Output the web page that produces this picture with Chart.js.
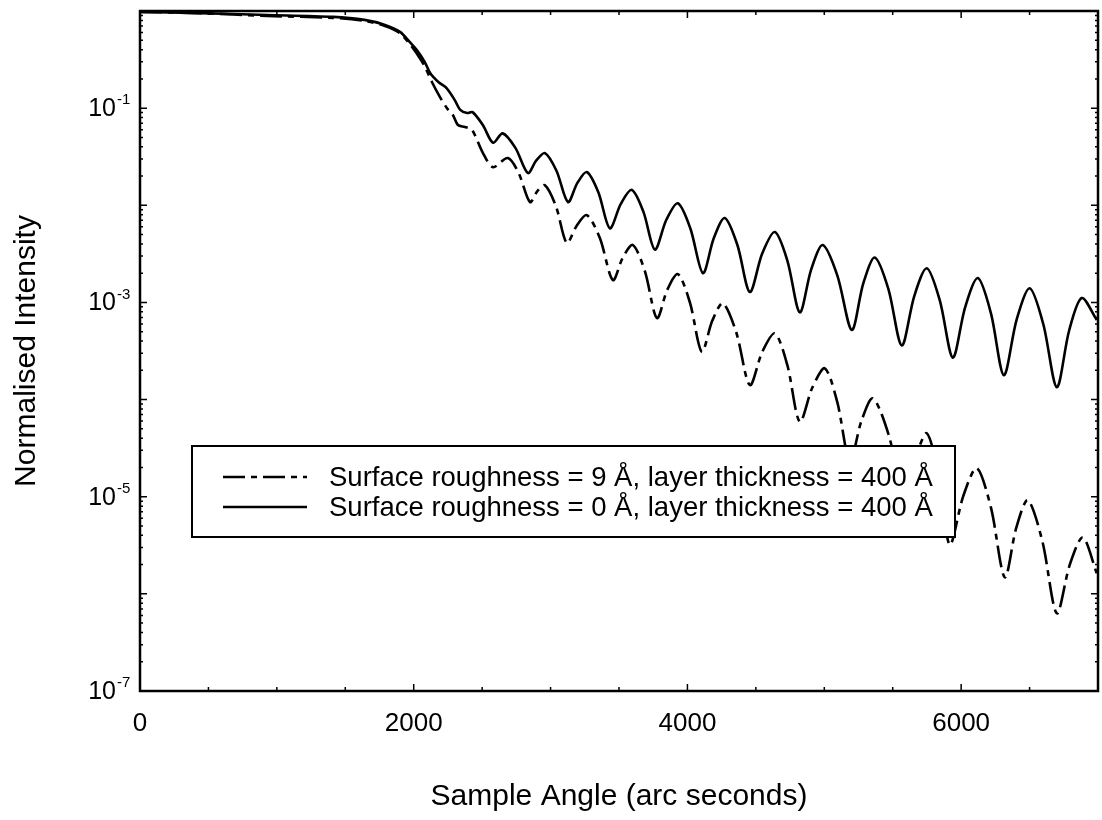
<!DOCTYPE html>
<html>
<head>
<meta charset="utf-8">
<title>X-ray reflectivity</title>
<script src="https://cdn.jsdelivr.net/npm/chart.js@4.4.1/dist/chart.umd.min.js"></script>
<style>
  html, body { margin: 0; padding: 0; background: #fff; }
  #reflChart { display: block; }
</style>
</head>
<body>
<canvas id="reflChart" width="1102" height="820"></canvas>
<script>
const FONT = "'Liberation Sans', Arial, Helvetica, sans-serif";

// surface roughness 0 A, layer 400 A (solid)
const angleSmooth = [0, 440, 930, 1410, 1640, 1790, 1900, 1970, 2020, 2080, 2120, 2180, 2240, 2300, 2340, 2390, 2430, 2505,
  2580, 2650, 2743, 2834, 2896, 2959, 3043, 3127, 3196, 3265, 3349, 3433, 3514, 3594, 3678, 3762, 3846, 3930,
  4021, 4113, 4193, 4273, 4365, 4456, 4547, 4639, 4730, 4821, 4905, 4989, 5095, 5201, 5285, 5369, 5468, 5566,
  5658, 5749, 5844, 5939, 6030, 6122, 6217, 6312, 6406, 6501, 6600, 6699, 6790, 6881, 6991];
const intensitySmooth = [0.98, 0.95, 0.91, 0.87, 0.81, 0.72, 0.61, 0.48, 0.40, 0.30, 0.23, 0.186, 0.161, 0.121, 0.096, 0.089, 0.091, 0.067,
  0.044, 0.055, 0.039, 0.0215, 0.029, 0.0345, 0.0227, 0.0108, 0.0170, 0.0220, 0.0136, 0.0058, 0.0104, 0.0144, 0.0086, 0.0035, 0.0071, 0.0105,
  0.0058, 0.0020, 0.0046, 0.0074, 0.0039, 0.00128, 0.0032, 0.0053, 0.0027, 0.00079, 0.0022, 0.0039, 0.0019, 0.00052, 0.00157, 0.0029, 0.00138, 0.00036,
  0.00117, 0.00225, 0.00105, 0.00027, 0.0009, 0.00178, 0.00078, 0.000178, 0.00067, 0.0014, 0.0006, 0.000134, 0.00052, 0.00111, 0.00066];

// surface roughness 9 A, layer 400 A (dashed)
const angleRough = [0, 440, 930, 1410, 1640, 1790, 1900, 1970, 2020, 2080, 2133, 2192, 2243, 2286, 2323, 2374, 2425, 2506,
  2579, 2688, 2769, 2849, 2904, 2959, 3039, 3119, 3192, 3265, 3360, 3455, 3528, 3601, 3689, 3777, 3853, 3930,
  4018, 4105, 4182, 4259, 4357, 4456, 4547, 4639, 4730, 4821, 4913, 5004, 5095, 5187, 5271, 5355, 5471, 5588,
  5669, 5749, 5833, 5917, 6016, 6114, 6217, 6319, 6403, 6487, 6593, 6699, 6794, 6889, 6991];
const intensityRough = [0.98, 0.95, 0.89, 0.85, 0.79, 0.70, 0.59, 0.46, 0.37, 0.27, 0.186, 0.130, 0.100, 0.085, 0.067, 0.064, 0.060, 0.0345,
  0.0247, 0.0306, 0.0211, 0.0108, 0.0140, 0.0161, 0.0098, 0.0041, 0.0062, 0.0079, 0.0046, 0.0017, 0.0029, 0.0039, 0.0021, 0.00069, 0.00135, 0.00196,
  0.0010, 0.00031, 0.00065, 0.00098, 0.00049, 0.000141, 0.00031, 0.00048, 0.000226, 5.9e-5, 0.000133, 0.00021, 9.4e-5, 2.3e-5, 6.0e-5, 0.000103, 4.3e-5, 9.2e-6,
  2.55e-5, 4.5e-5, 1.73e-5, 3.2e-6, 1.02e-5, 1.97e-5, 7.8e-6, 1.48e-6, 4.8e-6, 9.2e-6, 3.5e-6, 6.3e-7, 2.0e-6, 3.8e-6, 1.63e-6];

const xTickValues = [0, 2000, 4000, 6000];
const yLabelExponents = [-1, -3, -5, -7];
const legendLabels = [
  "Surface roughness = 9 Å, layer thickness = 400 Å",
  "Surface roughness = 0 Å, layer thickness = 400 Å"
];

const DASH = [22, 6, 6, 6];

const toPoints = (xs, ys) => xs.map((x, i) => ({ x: x, y: ys[i] }));

// box, inward ticks, superscript y labels and the boxed legend
const matlabLook = {
  id: "matlabLook",
  afterDatasetsDraw(chart) {
    const { ctx } = chart;
    ctx.save();
    const bx = 192, by = 446, bw = 763, bh = 91;
    ctx.fillStyle = "#fff";
    ctx.fillRect(bx, by, bw, bh);
    ctx.strokeStyle = "#000";
    ctx.lineWidth = 2;
    ctx.strokeRect(bx, by, bw, bh);

    const rows = [477, 507];
    const dashes = [DASH, []];
    ctx.lineWidth = 2.6;
    rows.forEach((ry, i) => {
      ctx.setLineDash(dashes[i]);
      ctx.beginPath();
      ctx.moveTo(223, ry);
      ctx.lineTo(307, ry);
      ctx.stroke();
    });
    ctx.setLineDash([]);
    ctx.fillStyle = "#000";
    ctx.font = "27.5px " + FONT;
    ctx.textAlign = "left";
    ctx.textBaseline = "middle";
    rows.forEach((ry, i) => ctx.fillText(legendLabels[i], 329, ry + 1));
    ctx.restore();
  },
  afterDraw(chart) {
    const { ctx, chartArea: a, scales: { x, y } } = chart;
    ctx.save();
    ctx.strokeStyle = "#000";
    ctx.lineWidth = 2.5;
    ctx.strokeRect(a.left, a.top, a.right - a.left, a.bottom - a.top);

    ctx.lineWidth = 1.5;
    ctx.beginPath();
    for (let v = 0; v <= 7000; v += 500) {
      const px = x.getPixelForValue(v);
      const len = v % 2000 === 0 ? 7 : 4;
      ctx.moveTo(px, a.bottom); ctx.lineTo(px, a.bottom - len);
      ctx.moveTo(px, a.top); ctx.lineTo(px, a.top + len);
    }
    for (let e = -7; e <= 0; e++) {
      for (let m = 1; m <= 9; m++) {
        const v = m * Math.pow(10, e);
        if (v > 1) break;
        const py = y.getPixelForValue(v);
        const len = m === 1 ? 7 : 3;
        ctx.moveTo(a.left, py); ctx.lineTo(a.left + len, py);
        ctx.moveTo(a.right, py); ctx.lineTo(a.right - len, py);
      }
    }
    ctx.stroke();

    ctx.fillStyle = "#000";
    yLabelExponents.forEach(e => {
      const py = y.getPixelForValue(Math.pow(10, e));
      ctx.font = "25px " + FONT;
      ctx.textAlign = "right";
      ctx.textBaseline = "middle";
      ctx.fillText("10", 116, py + 1);
      ctx.font = "15px " + FONT;
      ctx.textAlign = "left";
      ctx.fillText("-" + Math.abs(e), 117, py - 8);
    });
    ctx.restore();
  }
};

new Chart(document.getElementById("reflChart"), {
  type: "line",
  data: {
    datasets: [
      {
        label: legendLabels[0],
        data: toPoints(angleRough, intensityRough),
        borderColor: "#000",
        borderWidth: 2.6,
        borderDash: DASH,
        pointRadius: 0,
        tension: 0.3,
        fill: false
      },
      {
        label: legendLabels[1],
        data: toPoints(angleSmooth, intensitySmooth),
        borderColor: "#000",
        borderWidth: 2.6,
        pointRadius: 0,
        tension: 0.3,
        fill: false
      }
    ]
  },
  options: {
    responsive: false,
    animation: false,
    layout: { padding: { top: 11, right: 4, left: 0, bottom: 0 } },
    plugins: {
      legend: { display: false },
      tooltip: { enabled: false }
    },
    scales: {
      x: {
        type: "linear",
        min: 0,
        max: 7000,
        afterBuildTicks: s => { s.ticks = xTickValues.map(v => ({ value: v })); },
        afterFit: s => { s.height = 129; },
        grid: { display: false, drawTicks: false },
        border: { display: false },
        ticks: { color: "#000", font: { family: FONT, size: 26 }, padding: 17, maxRotation: 0, autoSkip: false, callback: v => String(v) },
        title: { display: true, text: "Sample Angle (arc seconds)", color: "#000", font: { family: FONT, size: 30 }, padding: { top: 0, bottom: 5 } }
      },
      y: {
        type: "logarithmic",
        min: 1e-7,
        max: 1,
        afterFit: s => { s.width = 140; },
        grid: { display: false, drawTicks: false },
        border: { display: false },
        ticks: { display: false },
        title: { display: true, text: "Normalised Intensity", color: "#000", font: { family: FONT, size: 30 }, padding: { top: 9, bottom: 0 } }
      }
    }
  },
  plugins: [matlabLook]
});
</script>
</body>
</html>
